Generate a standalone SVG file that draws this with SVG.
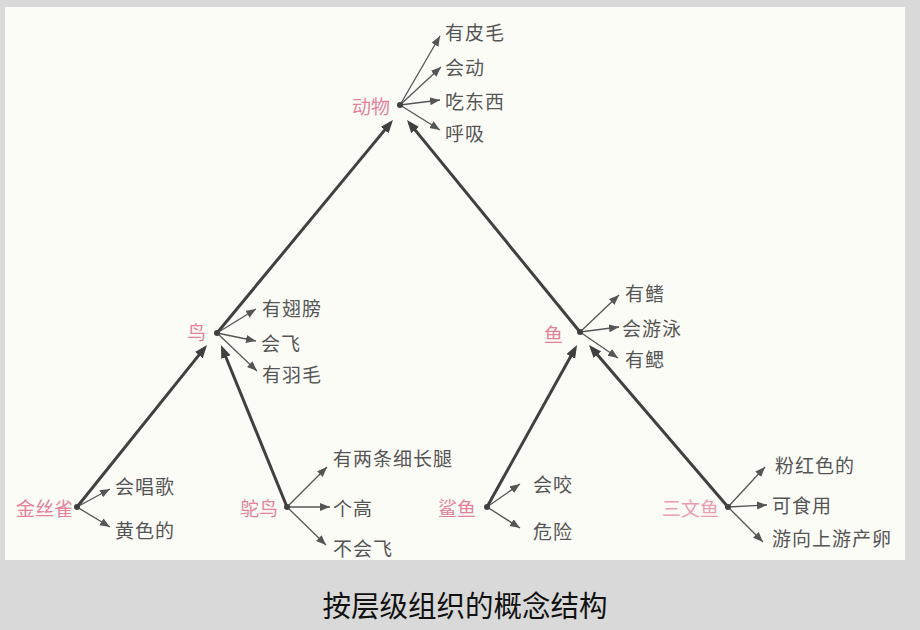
<svg xmlns="http://www.w3.org/2000/svg" width="920" height="630" viewBox="0 0 920 630">
<style>
.bg{fill:#d9d9d9}
.panel{fill:#fcfcf7}
.node{font-family:"Noto Sans CJK SC","Noto Sans",sans-serif;font-size:19px;fill:#e4819a;dominant-baseline:central;text-anchor:end}
.prop{font-family:"Noto Sans CJK SC","Noto Sans",sans-serif;font-size:19px;fill:#555;dominant-baseline:central;letter-spacing:1px}
.thick{stroke:#404040;stroke-width:3;fill:none;marker-end:url(#big)}
.thin{stroke:#555;stroke-width:1.3;fill:none;marker-end:url(#small)}
.dot{fill:#404040}
.cap{font-family:"Noto Sans CJK SC",sans-serif;font-size:29px;fill:#111;text-anchor:middle;dominant-baseline:central}
</style>
<defs>
<marker id="big" markerUnits="userSpaceOnUse" markerWidth="14" markerHeight="11" refX="9" refY="5" orient="auto">
<path d="M0,0 L13,5 L0,10 z" fill="#404040"/>
</marker>
<marker id="small" markerUnits="userSpaceOnUse" markerWidth="11" markerHeight="9" refX="10" refY="4" orient="auto">
<path d="M0,0 L10,4 L0,8 z" fill="#555"/>
</marker>
</defs>
<rect class="bg" x="0" y="0" width="920" height="630"/>
<rect class="panel" x="5" y="7" width="900" height="553"/>

<g id="connectors">
<line class="thick" x1="217" y1="333" x2="390.4" y2="123.1"/>
<line class="thick" x1="580" y1="332" x2="409.5" y2="123.1"/>
<line class="thick" x1="77" y1="507" x2="204.5" y2="348.1"/>
<line class="thick" x1="287" y1="507" x2="222.5" y2="348.7"/>
<line class="thick" x1="487" y1="507" x2="575.1" y2="348.5"/>
<line class="thick" x1="728" y1="507" x2="591.6" y2="348"/>

<line class="thin" x1="400" y1="105" x2="440" y2="36"/>
<line class="thin" x1="400" y1="105" x2="441" y2="67"/>
<line class="thin" x1="400" y1="105" x2="440" y2="100"/>
<line class="thin" x1="400" y1="105" x2="440" y2="130"/>

<line class="thin" x1="217" y1="333" x2="256" y2="309"/>
<line class="thin" x1="217" y1="333" x2="256" y2="341"/>
<line class="thin" x1="217" y1="333" x2="257" y2="371"/>

<line class="thin" x1="580" y1="332" x2="619" y2="295"/>
<line class="thin" x1="580" y1="332" x2="619" y2="327"/>
<line class="thin" x1="580" y1="332" x2="618" y2="358"/>

<line class="thin" x1="77" y1="507" x2="110" y2="489"/>
<line class="thin" x1="77" y1="507" x2="110" y2="527"/>

<line class="thin" x1="287" y1="507" x2="327" y2="467"/>
<line class="thin" x1="287" y1="507" x2="330" y2="507"/>
<line class="thin" x1="287" y1="507" x2="326" y2="545"/>

<line class="thin" x1="487" y1="507" x2="520" y2="484"/>
<line class="thin" x1="487" y1="507" x2="520" y2="528"/>

<line class="thin" x1="728" y1="507" x2="765" y2="467"/>
<line class="thin" x1="728" y1="507" x2="767" y2="505"/>
<line class="thin" x1="728" y1="507" x2="763" y2="542"/>
</g>

<g id="node-dongwu">
<circle class="dot" cx="400" cy="105" r="3"/>
<text class="node" x="390" y="105">动物</text>
<text class="prop" x="445" y="31">有皮毛</text>
<text class="prop" x="445" y="66">会动</text>
<text class="prop" x="445" y="100">吃东西</text>
<text class="prop" x="445" y="132">呼吸</text>
</g>

<g id="node-niao">
<circle class="dot" cx="217" cy="333" r="3"/>
<text class="node" x="206" y="331">鸟</text>
<text class="prop" x="262" y="307">有翅膀</text>
<text class="prop" x="261" y="342">会飞</text>
<text class="prop" x="262" y="373">有羽毛</text>
</g>

<g id="node-yu">
<circle class="dot" cx="580" cy="332" r="3"/>
<text class="node" x="563" y="333">鱼</text>
<text class="prop" x="625" y="292">有鳍</text>
<text class="prop" x="622" y="327">会游泳</text>
<text class="prop" x="625" y="358">有鳃</text>
</g>

<g id="node-jinsique">
<circle class="dot" cx="77" cy="507" r="3"/>
<text class="node" x="73" y="507">金丝雀</text>
<text class="prop" x="115" y="485">会唱歌</text>
<text class="prop" x="115" y="529">黄色的</text>
</g>

<g id="node-tuoniao">
<circle class="dot" cx="287" cy="507" r="3"/>
<text class="node" x="278" y="507">鸵鸟</text>
<text class="prop" x="333" y="457">有两条细长腿</text>
<text class="prop" x="333" y="507">个高</text>
<text class="prop" x="333" y="547">不会飞</text>
</g>

<g id="node-shayu">
<circle class="dot" cx="487" cy="507" r="3"/>
<text class="node" x="476" y="507">鲨鱼</text>
<text class="prop" x="533" y="483">会咬</text>
<text class="prop" x="533" y="530">危险</text>
</g>

<g id="node-sanwenyu">
<circle class="dot" cx="728" cy="507" r="3"/>
<text class="node" x="719" y="507" style="fill:#eb9db0">三文鱼</text>
<text class="prop" x="775" y="464">粉红色的</text>
<text class="prop" x="772" y="504">可食用</text>
<text class="prop" x="772" y="537">游向上游产卵</text>
</g>

<text class="cap" x="465" y="604" textLength="285" lengthAdjust="spacingAndGlyphs">按层级组织的概念结构</text>
</svg>
